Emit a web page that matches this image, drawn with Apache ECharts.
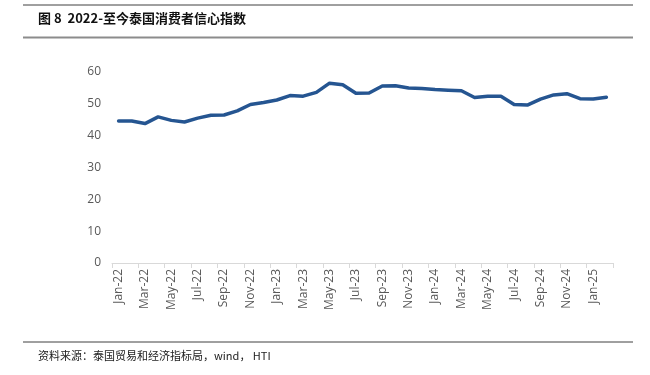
<!DOCTYPE html>
<html><head><meta charset="utf-8">
<script src="https://cdn.jsdelivr.net/npm/echarts@6/dist/echarts.min.js"></script>
<style>html,body{margin:0;padding:0;background:#fff}#c{width:650px;height:375px}</style>
</head><body><div id="c"></div>
<script>
var categories = ['Jan-22','Feb-22','Mar-22','Apr-22','May-22','Jun-22','Jul-22','Aug-22','Sep-22','Oct-22','Nov-22','Dec-22',
 'Jan-23','Feb-23','Mar-23','Apr-23','May-23','Jun-23','Jul-23','Aug-23','Sep-23','Oct-23','Nov-23','Dec-23',
 'Jan-24','Feb-24','Mar-24','Apr-24','May-24','Jun-24','Jul-24','Aug-24','Sep-24','Oct-24','Nov-24','Dec-24',
 'Jan-25','Feb-25'];
var confidence = [44.6,44.6,43.8,45.9,44.8,44.3,45.5,46.4,46.5,47.8,49.8,50.4,
 51.2,52.6,52.4,53.6,56.5,56.0,53.3,53.4,55.6,55.7,55.0,54.8,
 54.5,54.3,54.1,52.0,52.4,52.4,49.8,49.6,51.5,52.8,53.2,51.6,
 51.5,52.1];
var title = '图 8  2022-至今泰国消费者信心指数';
var source = '资料来源：泰国贸易和经济指标局，wind， HTI';

var chart = echarts.init(document.getElementById('c'), null, {renderer:'canvas'});
chart.setOption({
  animation:false,
  backgroundColor:'#fff',
  grid:{left:112,right:37,top:72,bottom:112},
  xAxis:{type:'category',data:categories,boundaryGap:true,
    axisLine:{lineStyle:{color:'#d9d9d9',width:1}},
    axisTick:{show:true,interval:1,length:5,lineStyle:{color:'#d9d9d9'}},
    axisLabel:{interval:1,rotate:90,color:'#595959',fontSize:12,fontFamily:'Open Sans',margin:6}
  },
  yAxis:{type:'value',min:0,max:60,interval:10,
    splitLine:{show:false},axisLine:{show:false},axisTick:{show:false},
    axisLabel:{color:'#595959',fontSize:12,fontFamily:'Open Sans',margin:11}
  },
  series:[{type:'line',data:confidence,symbol:'none',smooth:false,
    lineStyle:{color:'#255591',width:3.5,cap:'round',join:'round'}}],
  graphic:[
    {type:'line',shape:{x1:23,y1:5,x2:633,y2:5},style:{stroke:'#404040',lineWidth:1}},
    {type:'text',left:38,top:12,style:{text:title,font:'bold 13px "Noto Sans CJK SC"',fill:'#111'}},
    {type:'line',shape:{x1:23,y1:37.5,x2:633,y2:37.5},style:{stroke:'#8c8c8c',lineWidth:2}},
    {type:'line',shape:{x1:23,y1:342,x2:633,y2:342},style:{stroke:'#404040',lineWidth:1}},
    {type:'text',left:38,top:350,style:{text:source,font:'11px "Noto Sans CJK SC"',fill:'#222'}}
  ]
});
</script></body></html>
